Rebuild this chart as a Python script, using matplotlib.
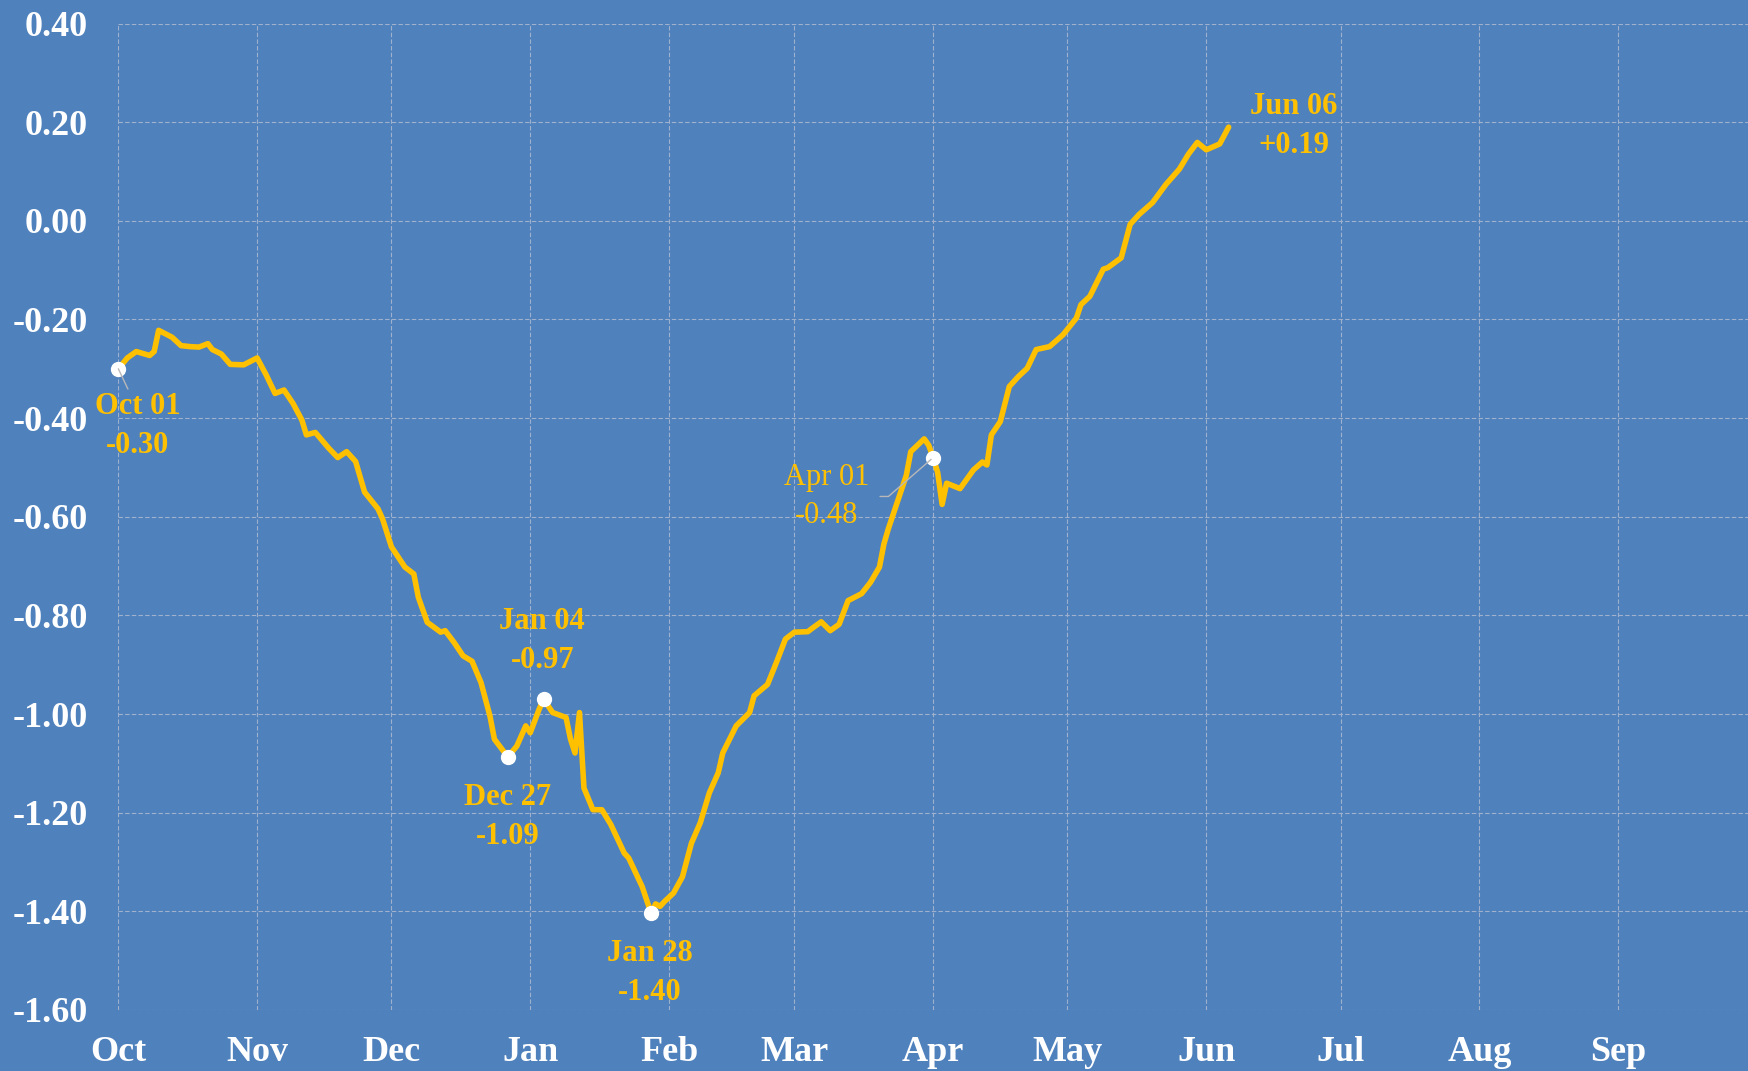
import matplotlib
matplotlib.use('Agg')
import matplotlib.pyplot as plt
import matplotlib.dates as mdates
import numpy as np
import pandas as pd

# season runs Oct 1 -> Sep 30
START = '2022-10-01'
END = '2023-09-30'

day_offsets = [0, 2, 4, 7, 8, 9, 12, 14, 16, 18, 20, 21, 23, 25, 28, 31, 33, 35, 37, 39,
               41, 42, 44, 47, 49, 51, 53, 55, 58, 59, 61, 64, 66, 67, 69, 72, 73, 75, 77, 79,
               81, 83, 84, 87, 89, 91, 92, 94, 95, 97, 100, 101, 102, 103, 104, 106, 108, 110, 113, 114,
               117, 119, 120, 121, 122, 124, 126, 128, 130, 132, 134, 135, 138, 141, 142, 145, 147, 149, 151, 154,
               155, 157, 159, 161, 163, 166, 168, 170, 171, 172, 174, 176, 177, 180, 181, 182, 183, 184, 185, 188,
               191, 193, 194, 195, 197, 199, 201, 203, 205, 208, 211, 214, 215, 217, 220, 221, 224, 226, 228, 231,
               234, 237, 239, 241, 243, 246, 248]
values = [-0.300, -0.278, -0.265, -0.273, -0.265, -0.222, -0.236, -0.253, -0.255, -0.256,
          -0.249, -0.261, -0.270, -0.291, -0.292, -0.278, -0.312, -0.350, -0.343, -0.370,
          -0.404, -0.434, -0.429, -0.461, -0.480, -0.468, -0.488, -0.550, -0.584, -0.604,
          -0.661, -0.702, -0.716, -0.763, -0.814, -0.834, -0.831, -0.855, -0.882, -0.893,
          -0.936, -1.004, -1.051, -1.087, -1.065, -1.024, -1.038, -0.990, -0.970, -0.997,
          -1.007, -1.051, -1.079, -0.997, -1.150, -1.194, -1.194, -1.224, -1.282, -1.292,
          -1.350, -1.404, -1.385, -1.390, -1.380, -1.363, -1.330, -1.262, -1.220, -1.160,
          -1.119, -1.079, -1.024, -0.997, -0.963, -0.940, -0.895, -0.848, -0.834, -0.833,
          -0.826, -0.813, -0.831, -0.818, -0.770, -0.756, -0.733, -0.702, -0.655, -0.624,
          -0.570, -0.516, -0.468, -0.442, -0.455, -0.480, -0.510, -0.575, -0.532, -0.543,
          -0.505, -0.489, -0.495, -0.434, -0.407, -0.336, -0.316, -0.299, -0.261, -0.255,
          -0.231, -0.197, -0.170, -0.153, -0.098, -0.095, -0.075, -0.007, 0.013, 0.037,
          0.074, 0.105, 0.135, 0.159, 0.144, 0.156, 0.190]

callout_days = [0, 87, 95, 119, 182, 248]
callout_marker = [True, True, True, True, True, False]
y_ticks = [0.40, 0.20, 0.00, -0.20, -0.40, -0.60, -0.80, -1.00, -1.20, -1.40, -1.60]

BG = '#4F81BD'
LINE = '#FFC000'
GRID = '#9FB1CD'


def main():
    plt.rcParams['axes.unicode_minus'] = False
    plt.rcParams['font.family'] = ['Liberation Serif', 'DejaVu Serif']

    dates = pd.Timestamp(START) + pd.to_timedelta(day_offsets, unit='D')
    series = pd.Series(values, index=dates)

    fig = plt.figure(figsize=(17.48, 10.71), dpi=100, facecolor=BG)
    ax = fig.add_axes([0.0677, 0.057, 0.9323, 0.921])
    ax.set_facecolor(BG)

    ax.plot(series.index, series.values, color=LINE, linewidth=4.0,
            solid_joinstyle='round', solid_capstyle='round', zorder=3)

    # callouts: (dx, dy) offset of the label in points
    offsets = [(14, -41), (0, -43), (-1, 42), (-1, -43), (-77, -28), (47, 1)]
    weights = ['bold', 'bold', 'bold', 'bold', 'normal', 'bold']
    for i, d in enumerate(callout_days):
        when = pd.Timestamp(START) + pd.Timedelta(days=d)
        val = series[when]
        if val < 0:
            label = when.strftime('%b %d') + '\n' + f'{val:.2f}'
        else:
            label = when.strftime('%b %d') + '\n' + f'{val:+.2f}'
        if callout_marker[i]:
            ax.plot([when], [val], 'o', color='white', markersize=10,
                    markeredgecolor='white', zorder=4, clip_on=False)
        arrow = None
        if i == 0:
            arrow = dict(arrowstyle='-', color='#B8B8B8', lw=1.0, relpos=(0.4, 1.0),
                         shrinkA=0, shrinkB=0)
        elif i == 4:
            arrow = dict(arrowstyle='-', color='#B8B8B8', lw=1.0, relpos=(1.0, 0.5),
                         connectionstyle='angle,angleA=0,angleB=41,rad=0',
                         shrinkA=6, shrinkB=2)
        ann = ax.annotate(label, xy=(when, val), xytext=offsets[i], textcoords='offset points',
                          ha='center', va='center', fontsize=22, fontweight=weights[i],
                          color=LINE, linespacing=1.45, arrowprops=arrow, zorder=5)
        if ann.arrow_patch is not None:
            ann.arrow_patch.set_zorder(4.5)
            ann.arrow_patch.set_clip_on(False)

    ax.set_xlim(pd.Timestamp(START), pd.Timestamp(END))
    ax.set_ylim(-1.6, 0.4)
    ax.set_yticks(y_ticks)
    ax.yaxis.set_major_formatter(plt.FuncFormatter(lambda v, p: f'{v:.2f}'))
    ax.xaxis.set_major_locator(mdates.MonthLocator())
    ax.xaxis.set_major_formatter(mdates.DateFormatter('%b'))

    ax.grid(True, color=GRID, linestyle=(0, (4, 2)), linewidth=0.8, zorder=1)
    ax.set_axisbelow(True)
    for s in ax.spines.values():
        s.set_visible(False)
    ax.tick_params(axis='both', length=0, colors='white')
    ax.tick_params(axis='y', pad=22, labelsize=26)
    ax.tick_params(axis='x', pad=19, labelsize=26)
    for t in ax.get_xticklabels() + ax.get_yticklabels():
        t.set_fontweight('bold')

    fig.savefig('out.png', dpi=100, facecolor=BG)
    plt.close(fig)


if __name__ == '__main__':
    main()
